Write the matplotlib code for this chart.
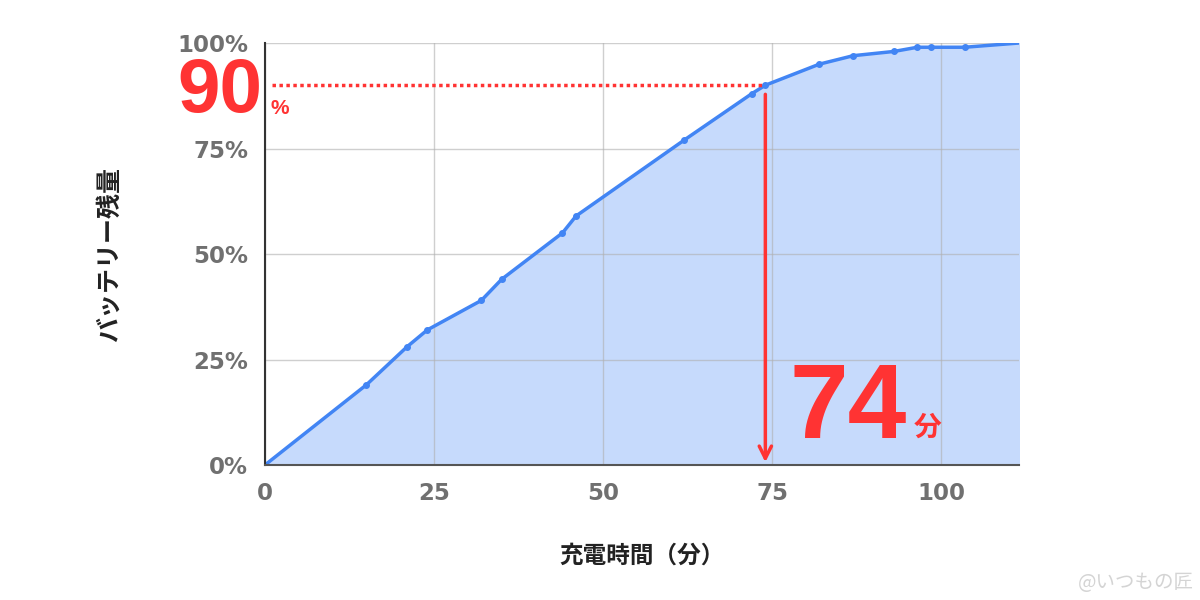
import matplotlib.pyplot as plt
from matplotlib.ticker import FuncFormatter

plt.rcParams['font.family'] = ['Noto Sans CJK JP', 'DejaVu Sans']

# 充電時間（分）とバッテリー残量（%）
minutes = [0, 15, 21, 24, 32, 35, 44, 46, 62, 72, 74, 82, 87, 93, 96.5, 98.5, 103.5, 111.5]
battery = [0, 19, 28, 32, 39, 44, 55, 59, 77, 88, 90, 95, 97, 98, 99, 99, 99, 100]
x_ticks = [0, 25, 50, 75, 100]
y_ticks = [0, 25, 50, 75, 100]
target_level = 90
target_minute = 74

line_color = '#4285f4'
fill_color = '#c6dafc'
red = '#ff3333'
grey = '#707070'
num_font = ['Liberation Sans', 'DejaVu Sans']

fig = plt.figure(figsize=(12, 6), dpi=100)
ax = fig.add_axes([0.2208, 0.225, 0.6283, 0.7033])

ax.fill_between(minutes, battery, 0, color=fill_color, zorder=1)
ax.plot(minutes[:-1], battery[:-1], color=line_color, linewidth=2.5, marker='o', markersize=4, zorder=3)
ax.plot(minutes[-2:], battery[-2:], color=line_color, linewidth=2.5, zorder=3)

ax.set_xlim(0, 111.5)
ax.set_ylim(0, 100)
ax.set_xticks(x_ticks)
ax.set_yticks(y_ticks)
ax.yaxis.set_major_formatter(FuncFormatter(lambda v, p: f'{int(v)}%'))
ax.grid(True, color='#b0b0b0', linewidth=1, alpha=0.6, zorder=2)
ax.set_axisbelow(False)
ax.tick_params(length=0, pad=12, labelcolor=grey)
for lab in ax.get_xticklabels() + ax.get_yticklabels():
    lab.set_family(['DejaVu Sans'])
    lab.set_fontweight('bold')
    lab.set_fontsize(16.5)

for side in ['top', 'right']:
    ax.spines[side].set_visible(False)
ax.spines['left'].set_color('#333333')
ax.spines['bottom'].set_color('#555555')
ax.spines['left'].set_linewidth(1.5)
ax.spines['bottom'].set_linewidth(1.5)
ax.spines['left'].set_zorder(4)
ax.spines['bottom'].set_zorder(4)

# 90% ライン
ax.plot([1, target_minute - 0.5], [target_level, target_level], color=red,
        linestyle=(0, (1, 1)), linewidth=2.5, zorder=4)
ax.annotate('', xy=(target_minute, 0), xytext=(target_minute, target_level - 1.5),
            arrowprops=dict(arrowstyle='->', color=red, lw=2.5, mutation_scale=22), zorder=5)

ax.text(-0.4, 88.3, '90', color=red, fontsize=55, fontweight='bold', family=num_font,
        ha='right', va='center', clip_on=False)
ax.text(0.8, 84.5, '%', color=red, fontsize=15, fontweight='bold', family=num_font,
        ha='left', va='center', clip_on=False)
ax.text(77.5, 12.8, '74', color=red, fontsize=76, fontweight='bold', family=num_font,
        ha='left', va='center')
ax.text(96, 8.8, '分', color=red, fontsize=20, fontweight='bold', ha='left', va='center')

ax.set_xlabel('充電時間（分）', fontsize=17, fontweight='bold', color='#222222', labelpad=28)
ax.set_ylabel('バッテリー残量', fontsize=18, fontweight='bold', color='#222222', labelpad=40)

fig.text(0.995, 0.03, '@いつもの匠', color='#d4d4d4', fontsize=14, ha='right', va='center')

fig.savefig('out.png', dpi=100)
